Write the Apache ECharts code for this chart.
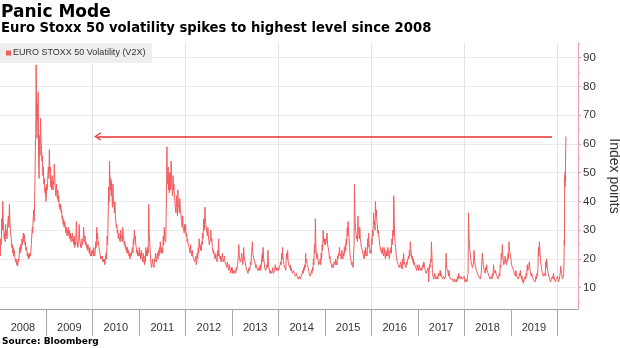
<!DOCTYPE html>
<html>
<head>
<meta charset="utf-8">
<title>Panic Mode</title>
<script src="https://cdn.jsdelivr.net/npm/echarts@6/dist/echarts.min.js"></script>
<style>
  html, body { margin: 0; padding: 0; background: #fff; }
  #chart { width: 620px; height: 348px; }
</style>
</head>
<body>
<div id="chart"></div>
<script>
// Euro Stoxx 50 volatility (V2X): twice-weekly readings, one inner list per month (Jan..Dec)
const v2x2008 = [[24,21,27,25,34,30,40,33],[30,27,29,26,32,28,30,27],[30,33,35,31,39,33,30,28],[27,24,25,22,24,21,23,21],[21,19,20,18,19,17.5,20,19],[21,24,22,25,23,24,27,25],[27,29,26,28.5,25,26,23,24],[23,21,22,20,21.5,20.5,22,21],[22,25,28,31,29,34,37,33],[40,47,58,64,87.5,70,62,74,68,78],[55,48,63,56,69,62,58,54],[56,49,52,46,48,43,45,40]];
const v2x2009 = [[42,46,44,49,52,48,58,50],[52,45,48,44,49,46,44,47],[46,53,47,44,42,46,43,41],[44,40,42,38,39,37,39,36],[37,34,35,32,34,31,33,32],[32,29,31,28,30,29,31,28],[30,27,29,26,28,27,29,26],[27,25,28,24,26,25,33,27],[26,24,25,27,32,27,26,24],[25,24,27,25,26,31,28,26],[28,25,26,24,25,23,25,24],[24,22,24,21,22,21,23,22]];
const v2x2010 = [[23,21,24,22,21,23,26,24],[31,27,29,25,26,24,23,22],[22,20,21,20,21,19,20,19],[20,18,19,21,22,20,28,25],[33,38,45,40,54,46,44,48,42,47],[42,38,46,40,39,36,40,35],[35,31,32,29,30,27,29,27],[27,26,30,27,28,26,31,28],[27,25,26,24,25,23,24,22],[24,22,23,21,22,20,22,21],[21,23,24,22,27,25,30,27],[28,25,24,22,23,21,22,21]];
const v2x2011 = [[24,21,22,20,23,21,20,19],[22,20,19,18,21,19,24,21],[23,21,24,22,39,28,26,22],[20,18,17,19,20,18,18,17],[20,19,22,20,19,21,22,20],[23,21,24,22,26,23,22,24],[24,22,28,25,31,27,27,26],[36,42,59,47,46,52,44,50,43,48],[50,44,54,47,45,42,49,44],[46,41,40,37,36,42,38,35],[44,38,39,36,41,37,36,34],[33,31,35,31,30,29,32,30]];
const v2x2012 = [[32,28,29,26,27,25,25,24],[24,22,25,23,22,21,23,21],[21,20,20,19,19,21,18,19],[22,20,24,22,27,24,25,23],[24,23,26,25,29,27,31,34,30,32],[38,33,33,30,30,28,31,28],[28,25,26,27,30,26,27,24],[24,22,23,21,21,20,22,20],[20,19,23,21,27,22,22,20],[21,19,20,21,22,19,19,20],[21,19,19,18,18,17,19,18],[17,16,18,17,16,15,17,16]];
const v2x2013 = [[17,15,16,15,15,14.5,16,15],[17,16,16,18,19,22,25,21],[21,19,19,20,22,20,18,19],[24,21,20,19,19,17,17,16],[16,15,15,17,16,17,19,18],[21,24,26,22,22,20,20,19],[19,17,18,17,17,16,16,17],[16,17,18,16,17,20,22,19],[24,20,19,17,17,16,16,17],[18,17,23,18,17,16,15,16],[16,15,15,16,17,15,15,14.5],[16,18,18,16,17,16,16,17]];
const v2x2014 = [[16,17,17,18,19,18,22,20],[24,20,20,18,18,17,17,16],[19,22,20,23,19,18,18,17],[18,16,17,16,16,15,15,16],[16,15,15,14,14,15,14,13.5],[14,13,13,14,14,13,13,14],[14,15,16,15,17,16,18,17],[22,19,20,18,18,17,16,15],[15,14,14,15,16,15,17,16],[20,18,25,22,34,24,21,20],[22,20,19,18,18,19,20,18],[22,20,25,23,30,26,27,25]];
const v2x2015 = [[27,25,25,27,29,25,24,23],[22,20,21,19,19,18,18,17],[18,17,17,19,19,18,20,18],[19,18,21,20,22,21,24,22],[22,21,20,23,21,20,22,21],[24,22,25,23,27,25,31,28],[33,29,27,24,21,20,19,18],[19,18,18,17,21,25,46,36,33,30],[30,27,28,26,35,30,30,27],[31,27,26,24,24,23,22,21],[21,20,23,21,24,22,22,21],[27,24,29,25,24,22,23,22]];
const v2x2016 = [[27,25,30,28,36,32,33,30],[40,35,37,33,32,29,30,28],[27,25,25,23,23,22,24,22],[22,21,24,22,21,20,23,21],[22,21,24,22,21,20,23,22],[24,22,27,25,30,28,42,33],[28,25,24,21,20,19,19,18],[18,17,17,18,19,17,18,16.5],[20,18,22,19,19,18,18,17],[19,18,18,20,21,20,23,21],[26,23,22,20,21,19,20,18],[19,18,18,17,17,16,18,17]];
const v2x2017 = [[17,16,18,17,16,15.5,17,16],[16,17,18,17,19,18,17,16],[16,15,15,16,16,17,12,15],[18,17,20,19,26,21,15,14],[14,13,13,15,14,13,13,12.5],[14,13,15,14,14,15,16,14],[15,14,14,13,13,14,14,13],[13,14,22,17,17,16,15,14],[16,14,14,13,13,12.5,13,12.5],[13,12,12,13,13,12,12,13],[12,13,14,13,15,14,14,13],[13,14,14,13,13,12.5,13,14]];
const v2x2018 = [[13,12,12,13,13,12,14,15],[36,28,26,23,22,20,19,18],[18,17,17,19,23,20,18,17],[17,16,16,15,15,14,14,13.5],[14,13,13,15,15,22,20,18],[18,16,16,15,17,16,18,16],[16,15,15,14,14,13,13,12.5],[14,13,15,14,18,16,16,15],[16,15,15,14,14,13,13,14],[15,14,18,17,22,20,25,21],[20,18,18,19,21,19,19,18],[20,19,22,20,26,23,23,21]];
const v2x2019 = [[20,18,18,17,17,16,16,15],[15,14,16,15,14,14,14,13],[13,14,15,14,16,14,13,14],[12,13,11.5,12,13,12.5,14,13],[15,14,18,16,16,17,19,17],[16,15,14,15,15,14,13,12.5],[13,12.5,12,13,14,13,15,14],[17,24,21,26,22,20,18,17],[16,15,15,14,14,15,15,14],[19,17,20,17,16,15,14,14],[13,12.5,12,13,13,12.5,14,13],[15,14,13,12.5,12,13,13,12.5]];
// 2020 so far, dated closes
const v2x2020 = [
  ['2020-01-03', 14], ['2020-01-07', 13], ['2020-01-10', 12], ['2020-01-14', 12.5],
  ['2020-01-17', 13], ['2020-01-21', 14], ['2020-01-24', 15], ['2020-01-28', 17.5],
  ['2020-01-31', 16.5], ['2020-02-04', 15], ['2020-02-07', 14], ['2020-02-11', 13],
  ['2020-02-14', 13.5], ['2020-02-18', 14], ['2020-02-21', 15],
  ['2020-02-24', 21.5], ['2020-02-25', 26.5], ['2020-02-26', 25], ['2020-02-27', 29],
  ['2020-02-28', 48.6], ['2020-03-02', 45], ['2020-03-03', 50.3], ['2020-03-04', 47],
  ['2020-03-05', 49], ['2020-03-06', 54.4], ['2020-03-09', 62.6]
];
const yearlyData = [
  [2008, v2x2008], [2009, v2x2009], [2010, v2x2010], [2011, v2x2011],
  [2012, v2x2012], [2013, v2x2013], [2014, v2x2014], [2015, v2x2015],
  [2016, v2x2016], [2017, v2x2017], [2018, v2x2018], [2019, v2x2019]
];

// axis labels and reference level
const yearLabels = [2008, 2009, 2010, 2011, 2012, 2013, 2014, 2015, 2016, 2017, 2018, 2019];
const yTicks = [10, 20, 30, 40, 50, 60, 70, 80, 90];
const yMinorTicks = [5, 15, 25, 35, 45, 55, 65, 75, 85, 95];
const latestLevel = 62.6;
const arrowFrom = '2019-11-20';
const arrowTo = '2010-02-10';

const seriesName = 'EURO STOXX 50 Volatility (V2X)';
const lineColor = '#f25c5f';

function ts(str) {
  const p = str.split('-').map(Number);
  return new Date(p[0], p[1] - 1, p[2]).getTime();
}

function buildPoints() {
  const pts = [];
  yearlyData.forEach(([year, months]) => {
    months.forEach((vals, m) => {
      const dim = new Date(year, m + 1, 0).getDate();
      vals.forEach((v, k) => {
        const day = 1 + Math.floor((k + 0.5) * dim / vals.length);
        pts.push([new Date(year, m, day).getTime(), v]);
      });
    });
  });
  v2x2020.forEach(([d, v]) => pts.push([ts(d), v]));
  return pts;
}

// the date axis is a plain numeric axis over millisecond timestamps
const xMin = ts('2008-01-04');
const xMax = ts('2020-06-12');
const yearStarts = yearLabels.map(y => new Date(y + 1, 0, 1).getTime());
const midYears = yearLabels.map(y => new Date(y, 6, 2).getTime());
const evenYears = [2010, 2012, 2014, 2016, 2018, 2020].map(y => new Date(y, 0, 1).getTime());

const labelFont = "'Liberation Sans', Arial, sans-serif";
const titleFont = "'DejaVu Sans', Verdana, sans-serif";
const axisPink = '#f3a0ae';

const chart = echarts.init(document.getElementById('chart'), null, { renderer: 'canvas' });

chart.setOption({
  animation: false,
  backgroundColor: '#ffffff',
  title: [
    {
      text: 'Panic Mode', left: 1, top: 4, padding: 0,
      textStyle: { fontFamily: titleFont, fontWeight: 'bold', fontSize: 17, color: '#000' }
    },
    {
      text: 'Euro Stoxx 50 volatility spikes to highest level since 2008', left: 1, top: 22, padding: 0,
      textStyle: { fontFamily: titleFont, fontWeight: 'bold', fontSize: 13.2, color: '#000' }
    },
    {
      text: 'Source: Bloomberg', left: 2, top: 337, padding: 0,
      textStyle: { fontFamily: titleFont, fontWeight: 'bold', fontSize: 9, color: '#000' }
    }
  ],
  grid: { left: 0, right: 42, top: 43, bottom: 39, containLabel: false, outerBoundsMode: 'none' },
  xAxis: [
    {
      type: 'value', min: xMin, max: xMax,
      axisLine: { show: true, lineStyle: { color: '#a0a0a0', width: 1 } },
      axisTick: { show: true, customValues: yearStarts, length: 27, lineStyle: { color: '#a8a8a8' } },
      axisLabel: {
        show: true, customValues: midYears, margin: 13,
        formatter: v => String(new Date(v).getFullYear()),
        color: '#333', fontSize: 11, fontFamily: labelFont
      },
      splitLine: { show: false }
    },
    {
      type: 'value', min: xMin, max: xMax, position: 'bottom',
      axisLine: { show: false },
      axisTick: { show: false, customValues: evenYears },
      axisLabel: { show: false, customValues: evenYears },
      splitLine: { show: true, lineStyle: { color: '#e4e4e4', width: 1 } }
    }
  ],
  yAxis: [
    {
      type: 'value', position: 'right', min: 2.6, max: 95.1,
      axisLine: { show: true, lineStyle: { color: axisPink, width: 1 } },
      axisTick: { show: true, customValues: yTicks, length: 3, lineStyle: { color: axisPink } },
      axisLabel: { show: true, customValues: yTicks, margin: 5, color: '#333', fontSize: 11.5, fontFamily: labelFont },
      splitLine: { show: true, lineStyle: { color: '#ebebeb', width: 1 } },
      name: 'Index points', nameLocation: 'middle', nameRotate: -90, nameGap: 28,
      nameTextStyle: { color: '#333', fontSize: 14, fontFamily: labelFont }
    },
    {
      type: 'value', position: 'right', min: 2.6, max: 95.1,
      axisLine: { show: false },
      axisTick: { show: true, customValues: yMinorTicks, length: 2, lineStyle: { color: axisPink } },
      axisLabel: { show: false },
      splitLine: { show: false }
    }
  ],
  graphic: [
    {
      type: 'group', left: 0, top: 43, z: 100,
      children: [
        { type: 'rect', z: 100, shape: { x: 0, y: 0, width: 152, height: 20 }, style: { fill: '#eeeeee' } },
        { type: 'rect', z: 101, shape: { x: 6, y: 7.5, width: 5, height: 5 }, style: { fill: lineColor } },
        {
          type: 'text', z: 101, x: 13, y: 10,
          style: { text: seriesName, fill: '#333', font: "9px 'Liberation Sans', Arial, sans-serif", verticalAlign: 'middle' }
        }
      ]
    }
  ],
  series: [
    {
      name: seriesName, type: 'line', xAxisIndex: 0, yAxisIndex: 0,
      data: buildPoints(), showSymbol: false, symbol: 'none',
      lineStyle: { color: lineColor, width: 1 },
      emphasis: { disabled: true },
      markLine: {
        silent: true, animation: false,
        symbol: ['path://M4,0L8,6.2L7,7L4,2.2L1,7L0,6.2Z', 'none'],
        symbolSize: [8, 7],
        label: { show: false },
        emphasis: { disabled: true },
        lineStyle: { color: '#e8332f', width: 1.5, type: 'solid' },
        data: [[{ coord: [ts(arrowTo), latestLevel] }, { coord: [ts(arrowFrom), latestLevel] }]]
      }
    }
  ]
});
</script>
</body>
</html>
